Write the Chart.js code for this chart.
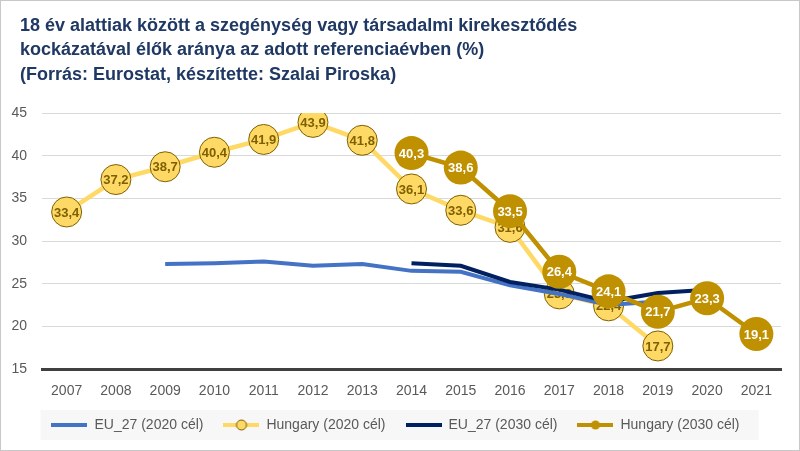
<!DOCTYPE html>
<html>
<head>
<meta charset="utf-8">
<script src="https://cdn.jsdelivr.net/npm/chart.js@4/dist/chart.umd.min.js"></script>
<style>
  html, body { margin: 0; padding: 0; background: #fff; }
  #wrap { width: 800px; height: 451px; position: relative; }
</style>
</head>
<body>
<div id="wrap"><canvas id="canvas" width="800" height="451"></canvas></div>
<script>
// years on the x axis
var years = ['2007','2008','2009','2010','2011','2012','2013','2014','2015','2016','2017','2018','2019','2020','2021'];
// series (%)
var eu2020 = [null, null, 27.3, 27.4, 27.6, 27.1, 27.3, 26.5, 26.4, 24.8, 23.8, 22.5, 22.9, null, null];
var hu2020 = [33.4, 37.2, 38.7, 40.4, 41.9, 43.9, 41.8, 36.1, 33.6, 31.6, 23.8, 22.4, 17.7, null, null];
var eu2030 = [null, null, null, null, null, null, null, 27.4, 27.1, 25.2, 24.3, 22.9, 23.9, 24.3, null];
var hu2030 = [null, null, null, null, null, null, null, 40.3, 38.6, 33.5, 26.4, 24.1, 21.7, 23.3, 19.1];
var seriesNames = ['EU_27 (2020 cél)', 'Hungary (2020 cél)', 'EU_27 (2030 cél)', 'Hungary (2030 cél)'];
var yTicks = [15, 20, 25, 30, 35, 40, 45];
var titleLines = [
    '18 év alattiak között a szegénység vagy társadalmi kirekesztődés',
    'kockázatával élők aránya az adott referenciaévben (%)',
    '(Forrás: Eurostat, készítette: Szalai Piroska)'
];

var FONT = "'Liberation Sans', Arial, sans-serif";

// little line+marker pictures for the legend
function legendIcon(color, markerFill, markerBorder, r){
    var c = document.createElement('canvas');
    c.width = 36; c.height = 14;
    var g = c.getContext('2d');
    g.strokeStyle = color;
    g.lineWidth = 4;
    g.beginPath(); g.moveTo(0, 7); g.lineTo(36, 7); g.stroke();
    if (r) {
        g.beginPath(); g.arc(18, 7, r, 0, Math.PI * 2);
        g.fillStyle = markerFill; g.fill();
        if (markerBorder) { g.lineWidth = 1; g.strokeStyle = markerBorder; g.stroke(); }
    }
    return c;
}
var icons = [
    legendIcon('#4472c4'),
    legendIcon('#ffd966', '#ffd966', '#7f6000', 5),
    legendIcon('#002060'),
    legendIcon('#bf9000', '#bf9000', null, 4.5)
];

function fmt(v){ return v.toFixed(1).replace('.', ','); }

var frameAndLabels = {
    id: 'frameAndLabels',
    beforeDraw: function(chart){
        var ctx = chart.ctx;
        ctx.save();
        ctx.fillStyle = '#fff';
        ctx.fillRect(0, 0, chart.width, chart.height);
        ctx.strokeStyle = '#c8c8c8';
        ctx.lineWidth = 1;
        ctx.strokeRect(0.5, 0.5, chart.width - 1, chart.height - 1);
        // title
        ctx.fillStyle = '#1f3864';
        ctx.font = 'bold 18px ' + FONT;
        ctx.textAlign = 'left';
        ctx.textBaseline = 'middle';
        titleLines.forEach(function(line, i){
            ctx.fillText(line, 20, 26 + i * 24.5);
        });
        // legend background
        var boxes = chart.legend && chart.legend.legendHitBoxes;
        if (boxes && boxes.length) {
            var l = boxes[0].left, r = boxes[boxes.length - 1].left + boxes[boxes.length - 1].width;
            var t = boxes[0].top;
            ctx.fillStyle = '#f7f7f7';
            ctx.fillRect(l - 11, t - 8, (r - l) + 30, 30);
        }
        ctx.restore();
    },
    afterDatasetDraw: function(chart, args){
        var ds = chart.data.datasets[args.index];
        if (!ds.labelColor) return;
        var meta = args.meta;
        var ctx = chart.ctx;
        ctx.save();
        ctx.font = 'bold 13px ' + FONT;
        ctx.fillStyle = ds.labelColor;
        ctx.textAlign = 'center';
        ctx.textBaseline = 'middle';
        meta.data.forEach(function(pt, i){
            var v = ds.data[i];
            if (v === null || v === undefined) return;
            ctx.fillText(fmt(v), pt.x, pt.y + 1);
        });
        ctx.restore();
    }
};

var ctx = document.getElementById('canvas').getContext('2d');
var chart = new Chart(ctx, {
    type: 'line',
    data: {
        labels: years,
        datasets: [{
            label: seriesNames[0],
            data: eu2020,
            borderColor: '#4472c4',
            backgroundColor: '#4472c4',
            borderWidth: 4,
            pointRadius: 0,
            order: 3
        }, {
            label: seriesNames[1],
            data: hu2020,
            borderColor: '#ffd966',
            backgroundColor: '#ffd966',
            borderWidth: 4.5,
            pointRadius: 15,
            pointBackgroundColor: '#ffd966',
            pointBorderColor: '#7f6000',
            pointBorderWidth: 1,
            labelColor: '#7f6000',
            order: 4
        }, {
            label: seriesNames[2],
            data: eu2030,
            borderColor: '#002060',
            backgroundColor: '#002060',
            borderWidth: 4,
            pointRadius: 0,
            order: 2
        }, {
            label: seriesNames[3],
            data: hu2030,
            borderColor: '#bf9000',
            backgroundColor: '#bf9000',
            borderWidth: 4.5,
            pointRadius: 17,
            pointBackgroundColor: '#bf9000',
            pointBorderColor: '#bf9000',
            pointBorderWidth: 0,
            labelColor: '#ffffff',
            order: 1
        }]
    },
    options: {
        responsive: false,
        animation: false,
        devicePixelRatio: 1,
        layout: { padding: { left: 10, right: 19, top: 113, bottom: 9 } },
        elements: { line: { tension: 0 } },
        scales: {
            x: {
                offset: true,
                afterFit: function(scale){ scale.height = 29; },
                grid: { display: false, drawTicks: false },
                border: { display: true, color: '#404040', width: 3 },
                ticks: { color: '#595959', font: { family: FONT, size: 14 }, padding: 14, maxRotation: 0, autoSkip: false }
            },
            y: {
                min: 15,
                max: 45,
                afterFit: function(scale){ scale.width = 32; },
                afterBuildTicks: function(scale){ scale.ticks = yTicks.map(function(v){ return {value: v}; }); },
                grid: { color: '#d9d9d9', lineWidth: 1, drawTicks: false },
                border: { display: false },
                ticks: { color: '#595959', font: { family: FONT, size: 14 }, padding: 15 }
            }
        },
        plugins: {
            title: { display: false },
            legend: {
                position: 'bottom',
                labels: {
                    usePointStyle: true,
                    pointStyleWidth: 36,
                    boxHeight: 14,
                    padding: 20,
                    color: '#595959',
                    font: { family: FONT, size: 14 },
                    sort: function(a, b){ return a.datasetIndex - b.datasetIndex; },
                    generateLabels: function(chart){
                        var items = Chart.defaults.plugins.legend.labels.generateLabels(chart);
                        items.forEach(function(it){ it.pointStyle = icons[it.datasetIndex]; });
                        return items;
                    }
                }
            },
            tooltip: { enabled: false }
        }
    },
    plugins: [frameAndLabels]
});
</script>
</body>
</html>
